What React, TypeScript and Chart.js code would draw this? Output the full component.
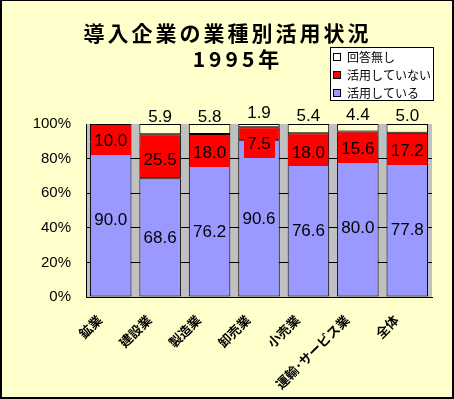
import { useEffect, useRef } from "react";
import { Chart, registerables } from "chart.js";

Chart.register(...registerables);

const TITLE = "導入企業の業種別活用状況";
const SUBTITLE = "1995年";
const categories = ["鉱業", "建設業", "製造業", "卸売業", "小売業", "運輸･サービス業", "全体"];
const using = [90.0, 68.6, 76.2, 90.6, 76.6, 80.0, 77.8];
const notUsing = [10.0, 25.5, 18.0, 7.5, 18.0, 15.6, 17.2];
const noAnswer: (number | null)[] = [null, 5.9, 5.8, 1.9, 5.4, 4.4, 5.0];
const seriesNames = ["活用している", "活用していない", "回答無し"];
const seriesColors = ["#9999FF", "#FF0000", "#FFFFCC"];
const legendColors = ["#9999FF", "#FF0000", "#FFFFFF"];
const yMax = 100;
const yStep = 20;

const JP = "'Noto Sans CJK JP', sans-serif";
const NUM = "'Liberation Sans', Arial, sans-serif";

function drawSpaced(ctx: CanvasRenderingContext2D, text: string, cx: number, cy: number, spacing: number, font: string) {
  ctx.font = font;
  ctx.textAlign = "left";
  ctx.textBaseline = "middle";
  const chars = Array.from(text);
  const widths = chars.map((c) => ctx.measureText(c).width);
  const total = widths.reduce((a, b) => a + b, 0) + spacing * (chars.length - 1);
  let x = cx - total / 2;
  chars.forEach((c, i) => {
    ctx.fillText(c, x, cy);
    x += widths[i] + spacing;
  });
}

const bgPlugin = {
  id: "bgPlugin",
  beforeDraw(chart: any) {
    const { ctx, width, height, chartArea } = chart;
    ctx.save();
    ctx.fillStyle = "#000";
    ctx.fillRect(0, 0, width, height);
    ctx.fillStyle = "#FFFFCC";
    ctx.fillRect(2, 1, width - 4, height - 3);
    ctx.fillStyle = "#C0C0C0";
    ctx.fillRect(chartArea.left, chartArea.top, chartArea.right - chartArea.left, chartArea.bottom - chartArea.top);

    ctx.fillStyle = "#000";
    drawSpaced(ctx, TITLE, 226, 33, 3, `bold 21px ${JP}`);
    drawSpaced(ctx, SUBTITLE, 236, 59, 4, `bold 21px ${JP}`);

    // legend
    ctx.fillStyle = "#FFFFFF";
    ctx.fillRect(330, 47, 103, 53);
    ctx.strokeStyle = "#000";
    ctx.lineWidth = 1;
    ctx.strokeRect(330.5, 47.5, 103, 53);
    const order = [2, 1, 0];
    const ys = [57, 75, 93];
    ctx.font = `12px ${JP}`;
    ctx.textAlign = "left";
    ctx.textBaseline = "middle";
    order.forEach((d, i) => {
      const yc = ys[i];
      ctx.fillStyle = legendColors[d];
      ctx.fillRect(333.5, yc - 3.5, 7, 7);
      ctx.strokeStyle = "#000";
      ctx.strokeRect(333.5, yc - 3.5, 7, 7);
      ctx.fillStyle = "#000";
      ctx.fillText(seriesNames[d], 347, yc + 0.5);
    });
    ctx.restore();
  },
};

const labelPlugin = {
  id: "labelPlugin",
  afterDatasetsDraw(chart: any) {
    const ctx: CanvasRenderingContext2D = chart.ctx;
    ctx.save();
    ctx.font = `17px ${NUM}`;
    ctx.textAlign = "center";
    ctx.textBaseline = "middle";
    chart.data.datasets.forEach((ds: any, d: number) => {
      const meta = chart.getDatasetMeta(d);
      meta.data.forEach((el: any, i: number) => {
        const v = ds.data[i];
        if (v == null) return;
        const { x, y, base } = el.getProps(["x", "y", "base"], true);
        const top = Math.min(y, base);
        const bottom = Math.max(y, base);
        const mid = (top + bottom) / 2;
        const txt = Number(v).toFixed(1);
        let cy = mid + 1;
        if (d === 2) {
          cy = mid - 12;
        } else if (d === 1) {
          cy = Math.max(mid + 4, top + 17);
          const w = ctx.measureText(txt).width + 7;
          ctx.fillStyle = seriesColors[1];
          ctx.fillRect(Math.round(x - w / 2), Math.round(cy - 13.5), Math.round(w), 27);
        }
        ctx.fillStyle = "#000";
        ctx.fillText(txt, x, cy);
      });
    });
    ctx.restore();
  },
};

export default function App() {
  const ref = useRef<HTMLCanvasElement>(null);
  useEffect(() => {
    document.body.style.margin = "0";
    const dsCommon = {
      borderColor: "#000",
      borderWidth: 1,
      borderSkipped: false as const,
      barPercentage: 0.84,
      categoryPercentage: 1,
    };
    const chart = new Chart(ref.current!, {
      type: "bar",
      data: {
        labels: categories,
        datasets: [
          { label: seriesNames[0], data: using, backgroundColor: seriesColors[0], ...dsCommon },
          { label: seriesNames[1], data: notUsing, backgroundColor: seriesColors[1], ...dsCommon },
          { label: seriesNames[2], data: noAnswer, backgroundColor: seriesColors[2], ...dsCommon },
        ],
      },
      options: {
        responsive: false,
        animation: false,
        devicePixelRatio: 1,
        layout: { padding: { top: 124, right: 22, bottom: 0, left: 0 } },
        plugins: {
          legend: { display: false },
          title: { display: false },
          tooltip: { enabled: false },
        },
        scales: {
          x: {
            stacked: true,
            grid: { display: false },
            border: { display: true, color: "#000", width: 1 },
            ticks: {
              color: "#000",
              font: { family: JP, size: 13, weight: "bold" },
              minRotation: 45,
              maxRotation: 45,
              autoSkip: false,
              padding: 7,
              labelOffset: -11,
            },
            afterFit(scale: any) {
              scale.height = 102;
            },
          },
          y: {
            stacked: true,
            min: 0,
            max: yMax,
            grid: {
              drawTicks: false,
              color: (c: any) => (c.tick && c.tick.value === yMax ? "rgba(0,0,0,0)" : "#000"),
              lineWidth: 1,
            },
            border: { display: true, color: "#000", width: 1 },
            ticks: {
              stepSize: yStep,
              color: "#000",
              font: { family: NUM, size: 15 },
              padding: 15,
              callback: (v: any) => `${v}%`,
            },
            afterFit(scale: any) {
              scale.width = 86;
            },
          },
        },
      },
      plugins: [bgPlugin, labelPlugin],
    });
    return () => chart.destroy();
  }, []);
  return <canvas ref={ref} width={454} height={399} style={{ display: "block", width: 454, height: 399 }} />;
}
